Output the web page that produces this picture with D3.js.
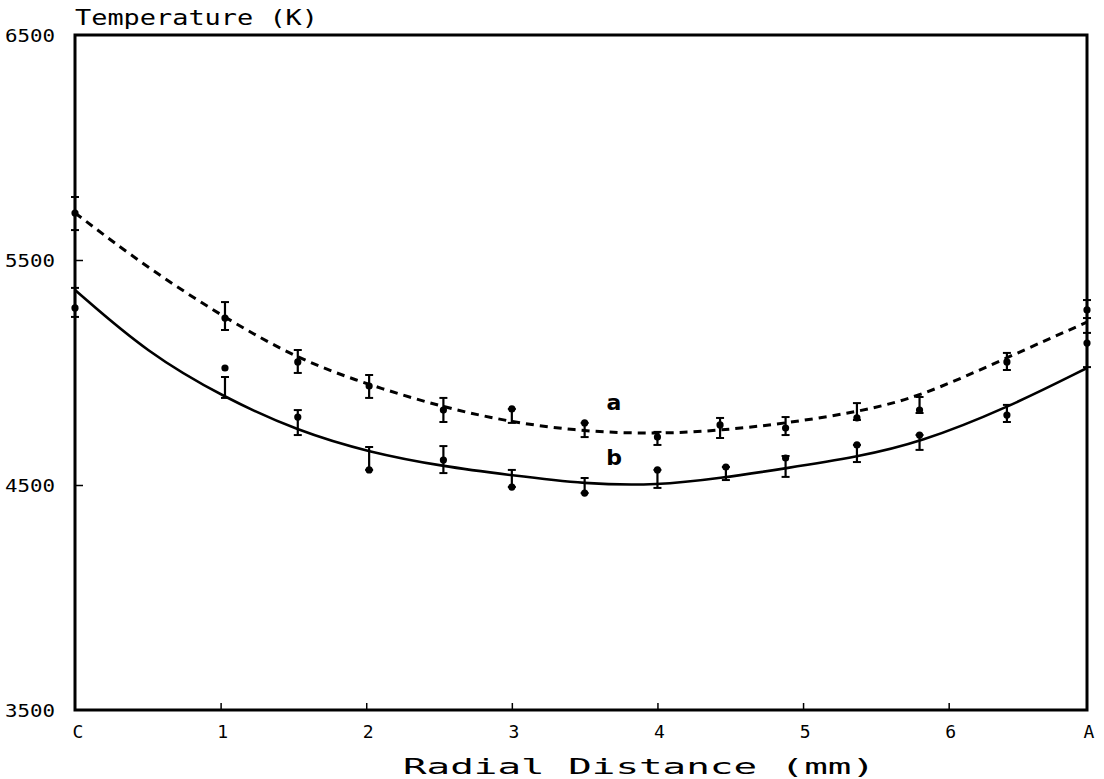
<!DOCTYPE html>
<html>
<head>
<meta charset="utf-8">
<script src="https://cdn.jsdelivr.net/npm/d3@7/dist/d3.min.js"></script>
<style>
  html, body { margin: 0; padding: 0; background: #fff; }
  svg { display: block; }
  text { font-family: "DejaVu Sans Mono", monospace; fill: #000; }
</style>
</head>
<body>
<svg id="chart" width="1104" height="779"></svg>
<script>
// ---- data (radial distance in mm, temperature in K) ----
const xTickValues = [0, 1, 2, 3, 4, 5, 6, 6.95];
const xTickLabels = ["C", "1", "2", "3", "4", "5", "6", "A"];
const yTickValues = [3500, 4500, 5500, 6500];

// fitted curves
const fitX = [0, 0.5, 1.03, 1.53, 2.02, 2.53, 3.0, 3.5, 4.0, 4.43, 4.88, 5.37, 5.8, 6.4, 6.95];
const fitA = [5709, 5464, 5242, 5060, 4944, 4845, 4778, 4737, 4727, 4742, 4774, 4824, 4890, 5066, 5224];
const fitB = [5367, 5085, 4887, 4740, 4645, 4582, 4543, 4504, 4498, 4530, 4574, 4624, 4688, 4842, 5020];

// measured points, series a
const ptsAX  = [0, 1.03, 1.53, 2.02, 2.53, 3.0, 3.5, 4.0, 4.43, 4.88, 5.37, 5.8, 6.4, 6.95];
const ptsAV  = [5709, 5242, 5047, 4940, 4833, 4838, 4776, 4713, 4767, 4753, 4798, 4833, 5047, 5278];
const ptsALo = [5633, 5189, 4998, 4887, 4780, 4776, 4713, 4678, 4709, 4722, 4789, 4820, 5011, 5242];
const ptsAHi = [5780, 5313, 5100, 4989, 4887, 4838, 4776, 4736, 4798, 4802, 4864, 4891, 5087, 5322];

// measured points, series b
const ptsBX  = [0, 1.03, 1.53, 2.02, 2.53, 3.0, 3.5, 4.0, 4.47, 4.88, 5.37, 5.8, 6.4, 6.95];
const ptsBV  = [5287, 5020, 4802, 4567, 4611, 4491, 4464, 4567, 4580, 4620, 4678, 4722, 4811, 5131];
const ptsBLo = [5247, 4887, 4722, 4567, 4553, 4491, 4464, 4487, 4522, 4536, 4602, 4656, 4780, 5024];
const ptsBHi = [5376, 4980, 4833, 4669, 4673, 4567, 4531, 4567, 4580, 4629, 4678, 4722, 4856, 5176];

// ---- layout ----
const svg = d3.select("#chart");
const mLeft = 75, mRight = 1087, mTop = 35, mBottom = 710;

const x = d3.scaleLinear().domain([0, 6.95]).range([mLeft, mRight]);
const y = d3.scaleLinear().domain([3500, 6500]).range([mBottom, mTop]);

// fitted curves
const line = d3.line()
  .x(d => x(d[0])).y(d => y(d[1]))
  .curve(d3.curveBasis);

svg.append("path")
  .datum(fitX.map((v, i) => [v, fitA[i]]))
  .attr("d", line)
  .attr("fill", "none").attr("stroke", "#000")
  .attr("stroke-width", 3).attr("stroke-dasharray", "8,6");

svg.append("path")
  .datum(fitX.map((v, i) => [v, fitB[i]]))
  .attr("d", line)
  .attr("fill", "none").attr("stroke", "#000")
  .attr("stroke-width", 2.6);

// measured points with error bars
function drawPoints(xs, vs, los, his) {
  const g = svg.append("g");
  xs.forEach((xv, i) => {
    const cx = x(xv);
    g.append("line").attr("x1", cx).attr("x2", cx)
      .attr("y1", y(los[i])).attr("y2", y(his[i]))
      .attr("stroke", "#000").attr("stroke-width", 2.2);
    [los[i], his[i]].forEach(t => {
      g.append("line").attr("x1", cx - 4).attr("x2", cx + 4)
        .attr("y1", y(t)).attr("y2", y(t))
        .attr("stroke", "#000").attr("stroke-width", 2);
    });
    g.append("circle").attr("cx", cx).attr("cy", y(vs[i]))
      .attr("r", 3.6).attr("fill", "#000");
  });
}
drawPoints(ptsAX, ptsAV, ptsALo, ptsAHi);
drawPoints(ptsBX, ptsBV, ptsBLo, ptsBHi);

// frame
svg.append("rect")
  .attr("x", mLeft).attr("y", mTop)
  .attr("width", mRight - mLeft).attr("height", mBottom - mTop)
  .attr("fill", "none").attr("stroke", "#000").attr("stroke-width", 3);

// axes (ticks inward, labels placed via the scales)
const xAxis = d3.axisTop(x).tickValues(xTickValues.slice(1, -1)).tickSize(7).tickFormat("");
svg.append("g").attr("transform", `translate(0,${mBottom})`).call(xAxis)
  .call(g => g.select(".domain").remove())
  .call(g => g.selectAll("line").attr("stroke-width", 1.5));

const yAxis = d3.axisRight(y).tickValues([4500, 5500]).tickSize(8).tickFormat("");
svg.append("g").attr("transform", `translate(${mLeft},0)`).call(yAxis)
  .call(g => g.select(".domain").remove())
  .call(g => g.selectAll("line").attr("stroke-width", 1.5));

// x tick labels
svg.append("g").selectAll("text").data(xTickValues).join("text")
  .attr("x", (d, i) => x(d) + (i === 0 ? 3 : (i === xTickValues.length - 1 ? 2 : 2)))
  .attr("y", 738)
  .attr("text-anchor", "middle")
  .attr("font-size", 18)
  .text((d, i) => xTickLabels[i]);

// y tick labels
svg.append("g").selectAll("text").data(yTickValues).join("text")
  .attr("x", 5).attr("y", d => y(d) + 7)
  .attr("font-size", 18)
  .attr("textLength", 50).attr("lengthAdjust", "spacingAndGlyphs")
  .text(d => d);

// titles
svg.append("text").attr("x", 75).attr("y", 25)
  .attr("font-size", 22)
  .attr("textLength", 243).attr("lengthAdjust", "spacingAndGlyphs")
  .text("Temperature (K)");

svg.append("text").attr("x", 403).attr("y", 774)
  .attr("font-size", 22)
  .attr("textLength", 472).attr("lengthAdjust", "spacingAndGlyphs")
  .text("Radial Distance (mm)");

// curve labels
svg.append("text").attr("x", 614).attr("y", 410)
  .attr("text-anchor", "middle").attr("font-size", 22).attr("font-weight", "bold")
  .style("font-family", "'DejaVu Sans', sans-serif")
  .text("a");
svg.append("text").attr("x", 614).attr("y", 465)
  .attr("text-anchor", "middle").attr("font-size", 22).attr("font-weight", "bold")
  .style("font-family", "'DejaVu Sans', sans-serif")
  .text("b");
</script>
</body>
</html>
